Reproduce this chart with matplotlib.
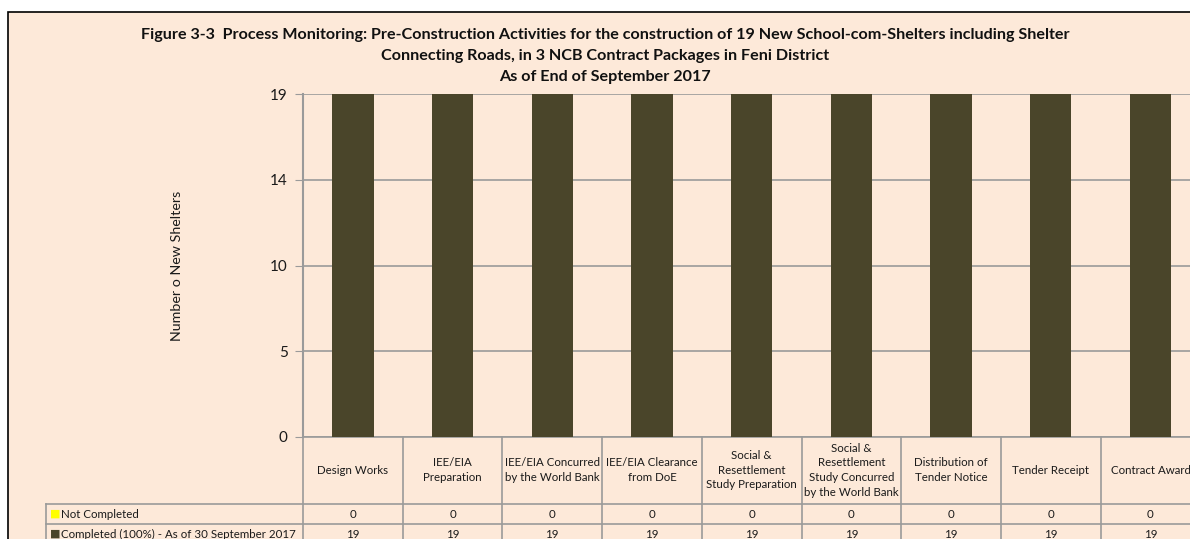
import matplotlib
matplotlib.use('Agg')
from matplotlib import pyplot as plt
from matplotlib.patches import Rectangle
import numpy as np

# data
categories = ["Design Works", "IEE/EIA\nPreparation", "IEE/EIA Concurred\nby the World Bank",
              "IEE/EIA Clearance\nfrom DoE", "Social &\nResettlement\nStudy Preparation",
              "Social &\nResettlement\nStudy Concurred\nby the World Bank",
              "Distribution of\nTender Notice", "Tender Receipt", "Contract Award"]
completed = [19, 19, 19, 19, 19, 19, 19, 19, 19]
not_completed = [0, 0, 0, 0, 0, 0, 0, 0, 0]
series_names = ["Not Completed", "Completed (100%) - As of 30 September 2017"]
ytick_vals = np.linspace(0, 19, 5)
ytick_labels = ["0", "5", "10", "14", "19"]

bg = '#FDE9D9'
bar_col = '#4A452A'
grid_col = '#9A9A9A'
txt_col = '#1A1A1A'

plt.rcParams['font.family'] = ['Lato', 'DejaVu Sans']

W, H = 1190, 539
fig = plt.figure(figsize=(W/100, H/100), dpi=100)
fig.patch.set_facecolor('white')
# chart area (runs off right and bottom edges)
fig.patches.append(Rectangle((8/W, -0.05), 1.1, 1.05 - 12/H, transform=fig.transFigure,
                             facecolor=bg, edgecolor='black', linewidth=1.2, zorder=-5))

x0, y0, ytop = 303, 437, 94
colw = 99.7
n = len(categories)
ax = fig.add_axes([x0/W, (H-y0)/H, n*colw/W, (y0-ytop)/H])
ax.set_zorder(2)
ax.set_facecolor(bg)

x = np.arange(n)
ax.bar(x, completed, width=0.415, color=bar_col, zorder=3)
ax.bar(x, not_completed, bottom=completed, width=0.415, color='#FFFF00', zorder=3)

ax.set_xlim(-0.5, n-0.5)
ax.set_ylim(0, 19)
ax.set_yticks(ytick_vals)
ax.set_yticklabels(ytick_labels, fontsize=11, color=txt_col)
ax.tick_params(axis='y', length=6, color=grid_col, pad=5)
ax.set_xticks([])
ax.yaxis.grid(True, color=grid_col, linewidth=1.2, zorder=0)
for s in ['top', 'right', 'bottom']:
    ax.spines[s].set_visible(False)
ax.spines['left'].set_color(grid_col)
ax.spines['left'].set_linewidth(1.5)
ax.text((177 - x0) / (n*colw), 0.5, "Number o New Shelters", transform=ax.transAxes,
        rotation=90, ha='center', va='center', fontsize=10.3, color=txt_col)

# data table under the plot
tr = ax.get_xaxis_transform()
def fy(py):
    return (y0 - py) / (y0 - ytop)
def fx(px):
    return -0.5 + (px - x0) / colw
r1, r2, r3 = fy(503.5), fy(523.5), fy(545)
left = fx(46)
kw = dict(transform=tr, clip_on=False, color=grid_col, linewidth=1.2)
ax.plot([-0.5, n-0.5], [0, 0], **kw)
for yy in [r1, r2]:
    ax.plot([left, n-0.5], [yy, yy], **kw)
for b in np.arange(n+1) - 0.5:
    ax.plot([b, b], [0, r3], **kw)
ax.plot([left, left], [r1, r3], **kw)

row_y = [fy(514), fy(534)]
for i, c in enumerate(categories):
    ax.text(i, (0 + r1)/2, c, transform=tr, ha='center', va='center', fontsize=8.3,
            linespacing=1.4, color=txt_col, clip_on=False)
    ax.text(i, row_y[0], str(not_completed[i]), transform=tr, ha='center', va='center',
            fontsize=8.3, color=txt_col, clip_on=False)
    ax.text(i, row_y[1], str(completed[i]), transform=tr, ha='center', va='center',
            fontsize=8.3, color=txt_col, clip_on=False)

for yy, name, col in [(row_y[0], series_names[0], '#FFFF00'), (row_y[1], series_names[1], bar_col)]:
    ax.text(fx(50), yy, "\u25A0", transform=tr, ha='left', va='center', fontsize=8,
            color=col, family='DejaVu Sans', clip_on=False)
    ax.text(fx(61), yy, name, transform=tr, ha='left', va='center', fontsize=8.3,
            color=txt_col, clip_on=False)

title = ("Figure 3-3  Process Monitoring: Pre-Construction Activities for the construction of 19 New School-com-Shelters including Shelter\n"
         "Connecting Roads, in 3 NCB Contract Packages in Feni District\n"
         "As of End of September 2017")
fig.text(605/W, 1 - 28/H, title, ha='center', va='top', fontsize=11.6, fontweight='bold',
         linespacing=1.65, color='#111111')

fig.savefig('out.png', dpi=100, facecolor='white')
